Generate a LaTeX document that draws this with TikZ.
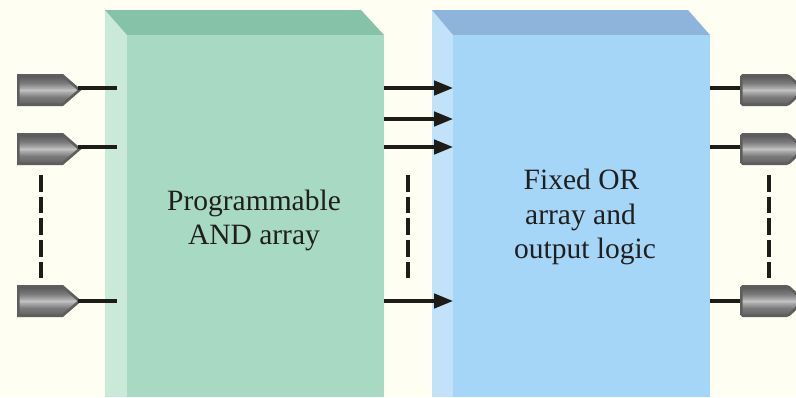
\documentclass[tikz,border=0pt]{standalone}
\usepackage{fontspec}
\setmainfont{Liberation Serif}
\usetikzlibrary{arrows.meta,calc}
\definecolor{paper}{HTML}{FFFEF2}
\definecolor{gfront}{HTML}{A8D9C2}
\definecolor{gside}{HTML}{CBE9D8}
\definecolor{gtop}{HTML}{86C2A7}
\definecolor{bfront}{HTML}{A6D6F7}
\definecolor{bside}{HTML}{C2E2F9}
\definecolor{btop}{HTML}{8FB4DC}
\definecolor{ink}{HTML}{1E1C16}
\definecolor{pinedge}{HTML}{5E5E5E}
\pgfdeclareverticalshading{pinshade}{100bp}{
  color(0bp)=(black!62); color(25bp)=(black!62); color(38bp)=(black!52);
  color(47bp)=(black!32); color(50bp)=(black!22); color(53bp)=(black!32);
  color(62bp)=(black!52); color(75bp)=(black!66); color(100bp)=(black!66)}
\tikzset{
  x=1pt,y=-1pt,
  front/.style={minimum width=257pt,minimum height=362pt,inner sep=0pt,outer sep=0pt,anchor=north west},
  label/.style={font=\fontsize{29.5}{34.5}\selectfont,align=center,text=black!88,inner sep=0pt},
  wire/.style={draw=ink,line width=3.2pt},
  flow/.style={wire,-{Triangle[length=19pt,width=14.5pt]}},
  gap/.style={draw=ink,line width=3.6pt,dash pattern=on 16.5pt off 5.2pt},
}
\newcommand{\leftpin}[2]{%
  \begin{scope}[shift={(17,#2)}]
    \path[draw=pinedge,line width=2.6pt,shading=pinshade]
      (1.3,-14.7) -- (45.5,-14.7) -- (62.5,0) -- (45.5,14.7) -- (1.3,14.7) -- cycle;
    \coordinate (#1) at (61,0);
  \end{scope}}
\newcommand{\rightpin}[2]{%
  \begin{scope}[shift={(741,#2)}]
    \path[draw=pinedge,line width=2.6pt,rounded corners=1.5pt,shading=pinshade]
      (0.3,-14.7) -- (47,-14.7) -- (60,-3) -- (60,3) -- (47,14.7) -- (0.3,14.7) -- cycle;
    \coordinate (#1) at (-1,0);
  \end{scope}}
\begin{document}
\begin{tikzpicture}
\path[use as bounding box,fill=paper] (0,0) rectangle (796,397);
% green block
\fill[gside] (105,10) -- (127,35) -- (127,397) -- (105,397) -- cycle;
\fill[gtop] (105,10) -- (361,10) -- (384,35) -- (127,35) -- cycle;
\node[front,fill=gfront] (andf) at (127,35) {};
% blue block
\fill[bside] (432,10) -- (453,35) -- (453,397) -- (432,397) -- cycle;
\fill[btop] (432,10) -- (688,10) -- (710,35) -- (453,35) -- cycle;
\node[front,fill=bfront] (orf) at (453,35) {};
\node[label] (andt) at (254,220.5) {Programmable\\AND array};
\node[label] (ort) at (585,217) {Fixed OR\kern7pt\\array and\kern9pt\\output logic};
% pins
\coordinate (i1e) at (117,88);
\coordinate (i2e) at (117,147);
\coordinate (i3e) at (117,301);
\coordinate (o1e) at (710,88);
\coordinate (o2e) at (710,147);
\coordinate (o3e) at (710,301);
\leftpin{i1}{90}
\leftpin{i2}{149}
\leftpin{i3}{301}
\rightpin{o1}{90}
\rightpin{o2}{149}
\rightpin{o3}{301}
\draw[wire] (i1 |- i1e) -- (i1e);
\draw[wire] (i2 |- i2e) -- (i2e);
\draw[wire] (i3 |- i3e) -- (i3e);
\draw[wire] (o1e) -- (o1 |- o1e);
\draw[wire] (o2e) -- (o2 |- o2e);
\draw[wire] (o3e) -- (o3 |- o3e);
% arrows
\foreach \n/\y in {a/88,b/119,c/147,d/301}{
  \coordinate (\n s) at (384,\y);
  \coordinate (\n t) at (453,\y);
  \draw[flow] (\n s) -- (\n t);
}
% gaps
\coordinate (g1a) at (41,175); \coordinate (g1b) at (41,279);
\coordinate (g2a) at (408,175); \coordinate (g2b) at (408,279);
\coordinate (g3a) at (769,175); \coordinate (g3b) at (769,279);
\draw[gap] (g1a) -- (g1b);
\draw[gap] (g2a) -- (g2b);
\draw[gap] (g3a) -- (g3b);
\end{tikzpicture}
\end{document}
